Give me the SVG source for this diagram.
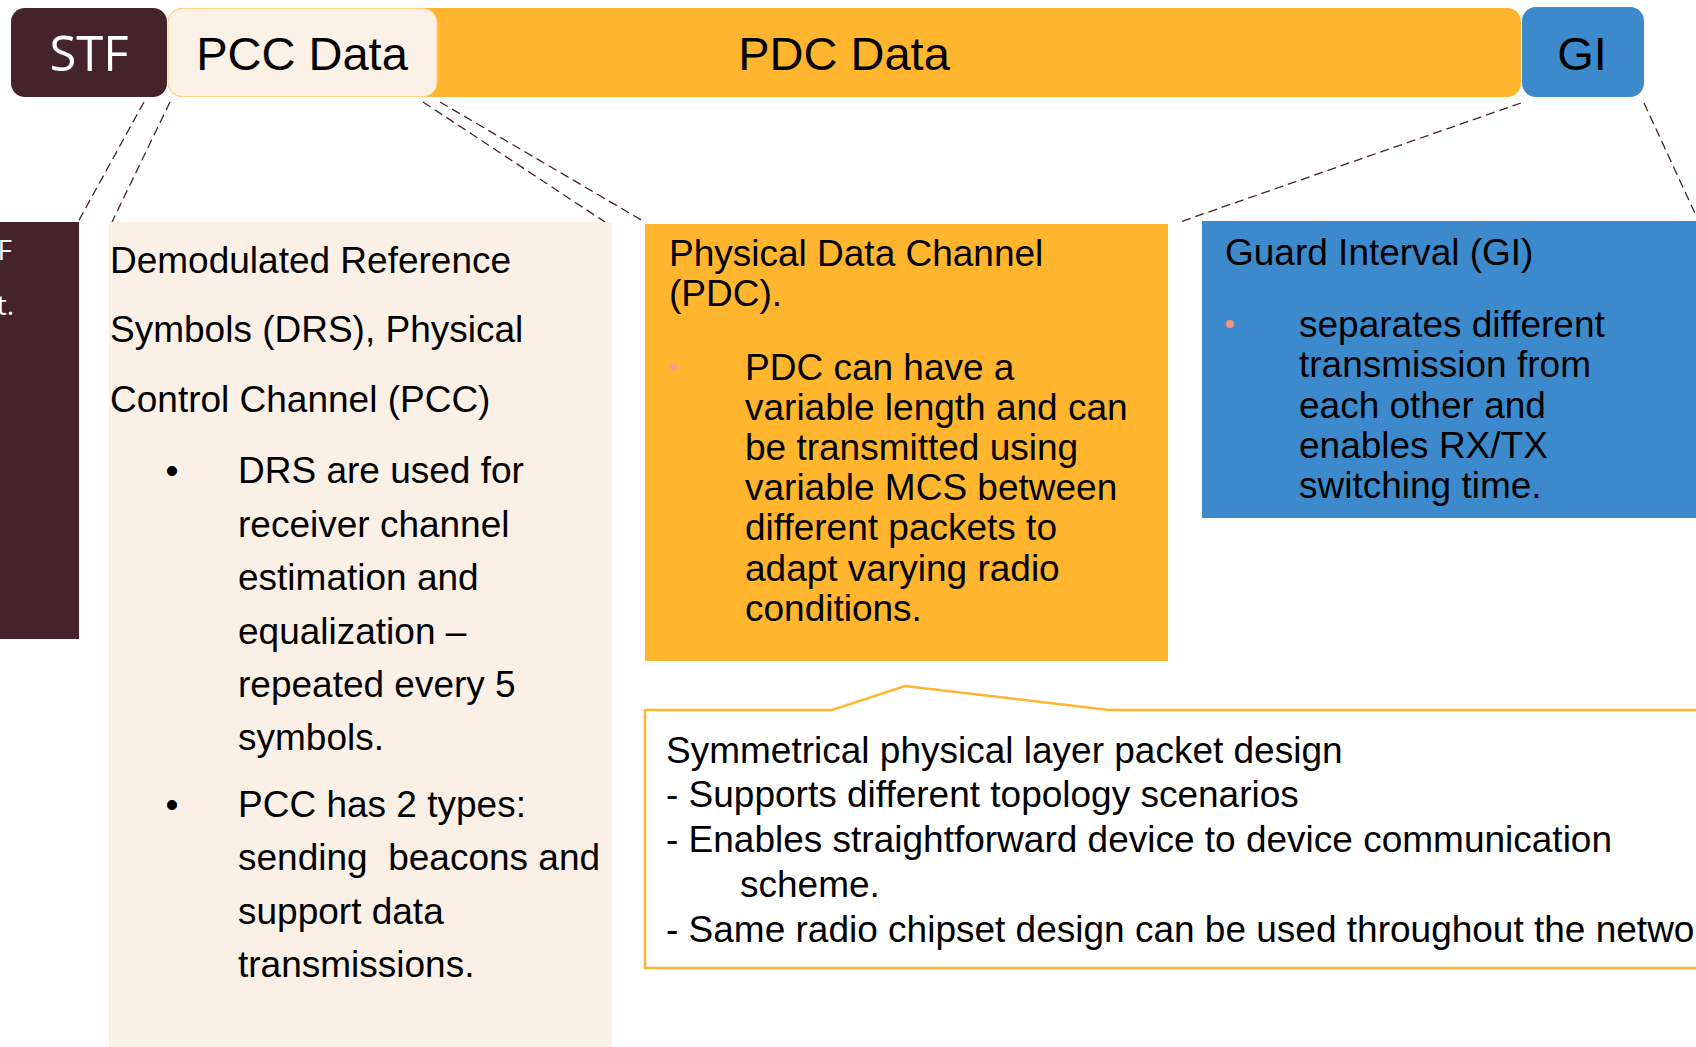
<svg xmlns="http://www.w3.org/2000/svg" width="1696" height="1047" viewBox="0 0 1696 1047">
  <style>
    .t { font-family: "Liberation Sans", Arial, sans-serif; fill: #000; }
    .body { font-size: 37px; }
    .bar { font-size: 47px; }
    .white { font-family: "Open Sans", sans-serif; fill: #fff; }
    .dash { stroke: #45232A; stroke-width: 1.3; stroke-dasharray: 9 5; fill: none; }
  </style>
  <rect width="1696" height="1047" fill="#fff"/>

  <!-- packet structure bar -->
  <g id="pdc-bar">
    <rect x="168" y="8" width="1353" height="89" rx="14" fill="#FFB52E"/>
    <text class="t bar" x="844" y="70" text-anchor="middle">PDC Data</text>
  </g>
  <g id="stf-field">
    <rect x="11" y="8" width="156" height="89" rx="14" fill="#45232A"/>
    <text class="white" x="89" y="71" font-size="49" text-anchor="middle">STF</text>
  </g>
  <g id="pcc-field">
    <rect x="168" y="8.5" width="269" height="88" rx="14" fill="#FBF1E7" stroke="#FFD48A" stroke-width="1"/>
    <text class="t bar" x="302" y="70" text-anchor="middle">PCC Data</text>
  </g>
  <g id="gi-field">
    <rect x="1522" y="7" width="122" height="90" rx="14" fill="#3C8ACB"/>
    <text class="t bar" x="1582" y="70" text-anchor="middle">GI</text>
  </g>

  <!-- zoom-out connectors -->
  <g id="connectors">
    <line class="dash" x1="144" y1="102" x2="78" y2="222"/>
    <line class="dash" x1="170" y1="102" x2="112" y2="222"/>
    <line class="dash" x1="423" y1="102" x2="605" y2="222"/>
    <line class="dash" x1="440" y1="102" x2="643" y2="221"/>
    <line class="dash" x1="1521" y1="103" x2="1180" y2="222"/>
    <line class="dash" x1="1644" y1="103" x2="1699" y2="222"/>
  </g>

  <!-- STF detail -->
  <g id="stf-detail">
    <rect x="0" y="222" width="79" height="417" fill="#45232A"/>
    <text class="white" x="12" y="260" font-size="28" text-anchor="end">F</text>
    <text class="white" x="14" y="315" font-size="28" text-anchor="end">t.</text>
  </g>

  <!-- PCC detail -->
  <g id="pcc-detail">
    <rect x="109" y="222" width="503" height="825" fill="#FAF0E6"/>
    <text class="t body" x="110" y="273">Demodulated Reference</text>
    <text class="t body" x="110" y="342">Symbols (DRS), Physical</text>
    <text class="t body" x="110" y="412">Control Channel (PCC)</text>
    <text class="t body" x="172" y="483" text-anchor="middle">•</text>
    <text class="t body" x="238" y="483">DRS are used for</text>
    <text class="t body" x="238" y="537">receiver channel</text>
    <text class="t body" x="238" y="590">estimation and</text>
    <text class="t body" x="238" y="644">equalization –</text>
    <text class="t body" x="238" y="697">repeated every 5</text>
    <text class="t body" x="238" y="750">symbols.</text>
    <text class="t body" x="172" y="817" text-anchor="middle">•</text>
    <text class="t body" x="238" y="817">PCC has 2 types:</text>
    <text class="t body" x="238" y="870" xml:space="preserve">sending  beacons and</text>
    <text class="t body" x="238" y="924">support data</text>
    <text class="t body" x="238" y="977">transmissions.</text>
  </g>

  <!-- PDC detail -->
  <g id="pdc-detail">
    <rect x="645" y="224" width="523" height="437" fill="#FFB52E"/>
    <text class="t body" x="669" y="266">Physical Data Channel</text>
    <text class="t body" x="669" y="306">(PDC).</text>
    <circle cx="674" cy="367" r="4" fill="#F4A08A"/>
    <text class="t body" x="745" y="380">PDC can have a</text>
    <text class="t body" x="745" y="420">variable length and can</text>
    <text class="t body" x="745" y="460">be transmitted using</text>
    <text class="t body" x="745" y="500">variable MCS between</text>
    <text class="t body" x="745" y="540">different packets to</text>
    <text class="t body" x="745" y="581">adapt varying radio</text>
    <text class="t body" x="745" y="621">conditions.</text>
  </g>

  <!-- GI detail -->
  <g id="gi-detail">
    <rect x="1202" y="221" width="494" height="297" fill="#3C8ACB"/>
    <text class="t body" x="1225" y="265">Guard Interval (GI)</text>
    <circle cx="1230" cy="324" r="4" fill="#F4907E"/>
    <text class="t body" x="1299" y="337">separates different</text>
    <text class="t body" x="1299" y="377">transmission from</text>
    <text class="t body" x="1299" y="418">each other and</text>
    <text class="t body" x="1299" y="458">enables RX/TX</text>
    <text class="t body" x="1299" y="498">switching time.</text>
  </g>

  <!-- design summary callout -->
  <g id="summary">
    <path d="M1700,710 H1109 L905,686 L832,710 H645 V968 H1700" fill="#fff" stroke="#FFB52E" stroke-width="2.5"/>
    <text class="t body" x="666" y="763">Symmetrical physical layer packet design</text>
    <text class="t body" x="666" y="807">- Supports different topology scenarios</text>
    <text class="t body" x="666" y="852">- Enables straightforward device to device communication</text>
    <text class="t body" x="740" y="897">scheme.</text>
    <text class="t body" x="666" y="942">- Same radio chipset design can be used throughout the netwo</text>
  </g>
</svg>
